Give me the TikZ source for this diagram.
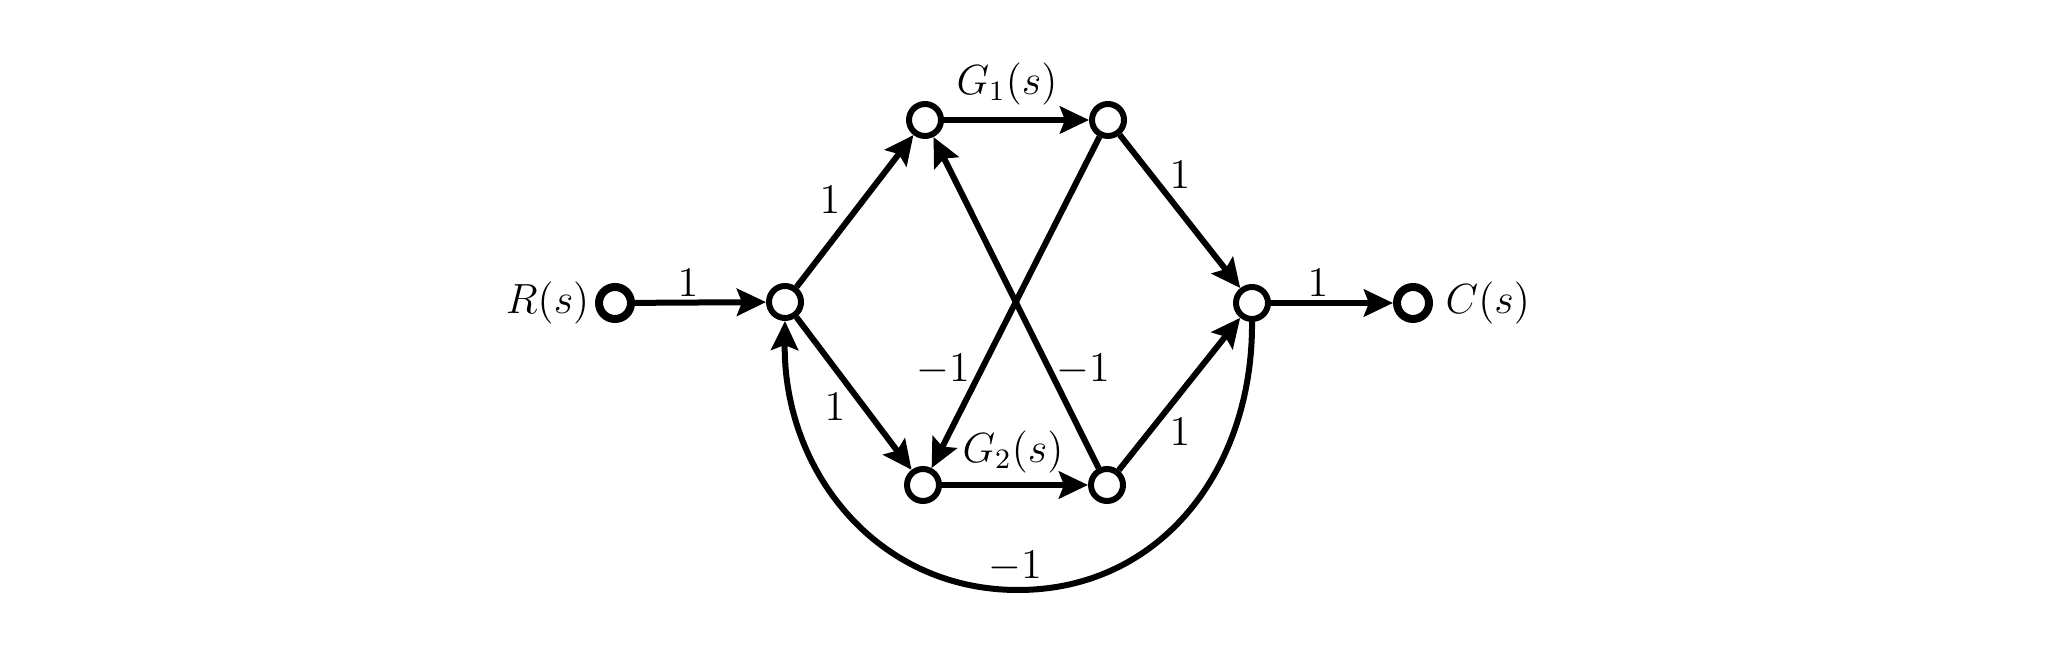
\documentclass[tikz,border=0pt]{standalone}
\usetikzlibrary{arrows.meta}
\begin{document}
\begin{tikzpicture}[x=0.1mm,y=-0.1mm,
  endnode/.style={circle,draw,line width=0.8mm,minimum size=3.2mm,inner sep=0pt},
  midnode/.style={circle,draw,line width=0.6mm,minimum size=3.2mm,inner sep=0pt},
  flow/.style={line width=0.6mm,-{Stealth[length=2.9mm,width=2.7mm,inset=0.5mm]}},
  lbl/.style={font=\fontsize{12}{14}\selectfont,inner sep=0pt}]
\useasboundingbox (0,0) rectangle (2063,647);
\node[endnode] (R) at (615,303) {};
\node[midnode] (A) at (785,302) {};
\node[midnode] (T1) at (925,120) {};
\node[midnode] (T2) at (1108,120) {};
\node[midnode] (B1) at (923,485) {};
\node[midnode] (B2) at (1107,485) {};
\node[midnode] (J) at (1252,303) {};
\node[endnode] (C) at (1413,303) {};
\node[lbl,anchor=east] (Rl) at (590,303) {$R(s)$};
\node[lbl,anchor=west] (Cl) at (1445,303) {$C(s)$};
\draw[flow] (R) -- (A);
\draw[flow] (A) -- (T1);
\draw[flow] (A) -- (B1);
\draw[flow] (T1) -- (T2);
\draw[flow] (B1) -- (B2);
\draw[flow] (T2) -- (J);
\draw[flow] (B2) -- (J);
\draw[flow] (T2) -- (B1);
\draw[flow] (B2) -- (T1);
\draw[flow] (J) -- (C);
\draw[flow] (J.south) .. controls (1253,470) and (1160,590) .. (1018,590)
   .. controls (876,590) and (783,470) .. (A.south);
\node[lbl] (l1) at (688,283) {$1$};
\node[lbl] (l2) at (830,200) {$1$};
\node[lbl] (l3) at (835,407) {$1$};
\node[lbl] (g1) at (1007,84) {$G_1(s)$};
\node[lbl] (g2) at (1013,452) {$G_2(s)$};
\node[lbl] (l4) at (1180,175) {$1$};
\node[lbl] (l5) at (1180,432) {$1$};
\node[lbl] (l6) at (1318,283) {$1$};
\node[lbl] (m1) at (943,370) {$-1$};
\node[lbl] (m2) at (1083,370) {$-1$};
\node[lbl] (m3) at (1015,567) {$-1$};
\end{tikzpicture}
\end{document}
